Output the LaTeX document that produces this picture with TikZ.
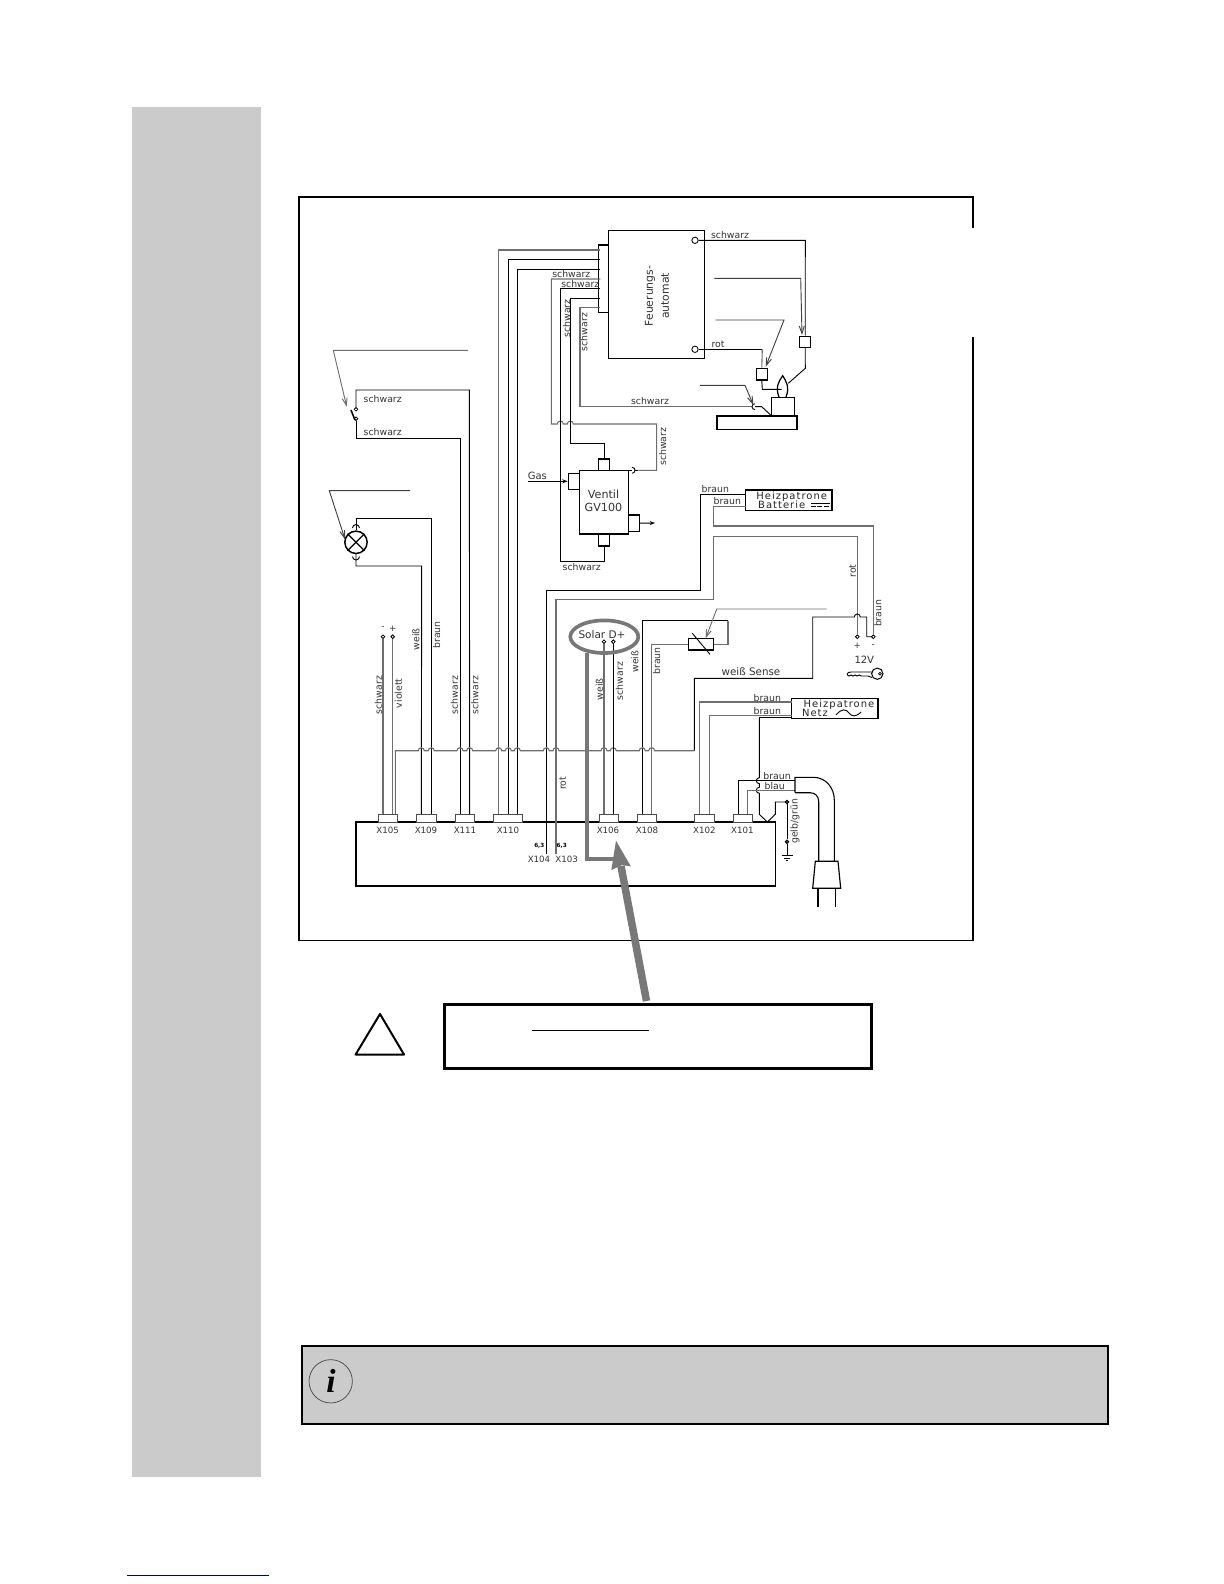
\documentclass[tikz,border=0pt]{standalone}
\usepackage{fontspec}
\setmainfont{DejaVu Sans}
\newfontfamily\serifi{Liberation Serif}
\newfontfamily\spaced[LetterSpace=10]{DejaVu Sans}
\usetikzlibrary{arrows.meta}
\definecolor{side}{HTML}{CBCBCB}
\definecolor{wgray}{HTML}{6E6E6E}
\definecolor{solar}{HTML}{787878}
\tikzset{
 wk/.style={line width=0.55pt,draw=black,line join=miter},
 wg/.style={line width=0.65pt,draw=wgray},
 part/.style={line width=0.8pt,draw=black,fill=white},
 boxst/.style={draw=black,line width=0.9pt,inner sep=0pt,outer sep=0pt,fill=white},
 termbox/.style={draw=black!70,line width=0.55pt,inner sep=0pt,outer sep=0pt,fill=white},
 call/.style={line width=0.55pt,draw=black!75,-{Straight Barb[length=4.5pt,width=3pt]}},
 lbl/.style={inner sep=0pt,text=black!80,font=\fontsize{5.6}{6.5}\selectfont},
 big/.style={inner sep=0pt,text=black!80,font=\fontsize{6.6}{8}\selectfont},
 term/.style={inner sep=0pt,text=black!80,font=\fontsize{5.2}{6}\selectfont},
 heiz/.style={inner sep=0pt,text=black!85,font=\spaced\fontsize{6}{7}\selectfont},
 pin/.style={circle,draw=black,line width=0.5pt,fill=white,inner sep=0pt,minimum size=2.2pt},
 rl/.style={rotate=90}
}
\newcommand{\bx}[6][boxst]{%
 \pgfmathsetmacro\bw{#5-#3}\pgfmathsetmacro\bh{#6-#4}%
 \node[#1,minimum width={\bw*0.6pt},minimum height={\bh*0.6pt}] (#2) at ({(#3+#5)/2},{(#4+#6)/2}) {};}
\begin{document}
\begin{tikzpicture}[x=0.6pt,y=-0.6pt]
\useasboundingbox (0,0) rectangle (1224,1584);
\fill[white] (0,0) rectangle (1224,1584);
% page furniture
\fill[side] (132,107) rectangle (261,1477);
\draw[line width=0.8pt,draw=blue!50!black] (127,1575.3) -- (269,1575.3);
% frame with gap
\draw[line width=1.1pt] (973,228) -- (973,197) -- (299,197) -- (299,940.5) -- (973,940.5) -- (973,337);

% main controller box and terminals
\bx{main}{356}{822}{775.3}{886}
\bx[termbox]{x105}{378.3}{814}{397.7}{822}
\bx[termbox]{x109}{416.3}{814}{436}{822}
\bx[termbox]{x111}{455}{814}{474.3}{822}
\bx[termbox]{x110}{493.7}{814}{522.3}{822}
\bx[termbox]{x106}{599}{814}{618.7}{822}
\bx[termbox]{x108}{637.3}{814}{656.7}{822}
\bx[termbox]{x102}{694.7}{814}{714.3}{822}
\bx[termbox]{x101}{733.7}{814}{752.7}{822}
\foreach \n/\x/\y in {p105a/383/814,p105b/392.7/814,p105c/395.3/814,p109a/421.3/814,p109b/431.3/814,p111a/460/814,p111b/469.7/814,p110a/498.7/814,p110b/508.3/814,p110c/517.3/814,p104/546.3/854,p103/556/854,p106a/604/814,p106b/613.3/814,p108a/642.3/814,p108b/651.7/814,p102a/699.3/814,p102b/709.3/814,p101a/738.7/814,p101b/747.7/814,s1/600.3/250,s2/600.3/259.7,s3/600.3/269.3,s4/600.3/279,s5/600.3/288.7,s6/600.3/298,s7/600.3/307.3}
 {\coordinate (\n) at (\x,\y);}
\node[term] (tx105) at (387.7,830.7) {X105};
\node[term] (tx109) at (426,830.7) {X109};
\node[term] (tx111) at (465,830.7) {X111};
\node[term] (tx110) at (508,830.7) {X110};
\node[term] (tx106) at (608,830.7) {X106};
\node[term] (tx108) at (647,830.7) {X108};
\node[term] (tx102) at (704.3,830.7) {X102};
\node[term] (tx101) at (742.3,830.7) {X101};
\node[term] (tx104) at (539,859.3) {X104};
\node[term] (tx103) at (566.7,859.3) {X103};
\node[inner sep=0pt,font=\fontsize{3.4}{4}\bfseries\selectfont] (t63a) at (539.3,845.7) {6,3};
\node[inner sep=0pt,font=\fontsize{3.4}{4}\bfseries\selectfont] (t63b) at (561.7,845.7) {6,3};

% firing automat
\bx[part]{strip}{600.3}{245}{608.3}{312.3}
\bx{feu}{608.3}{230.7}{704.3}{358.7}
\node[big,rl,align=center,font=\fontsize{6.5}{9.6}\selectfont] (tfeu) at (657,296) {Feuerungs-\\automat};
\node[pin,minimum size=3.8pt] (ca) at (695,240.3) {};
\node[pin,minimum size=3.8pt] (cb) at (695,349.3) {};
% wires from the strip
\draw[wg] (s1) -| (p110a);
\draw[wk] (s2) -| (p110b);
\draw[wk] (s3) -| (p110c);
\draw[wg] (s4) -- (551.3,279) -- (551.3,424) -- (557.3,424) arc[start angle=180,end angle=360,radius=3] -- (567.3,424) arc[start angle=180,end angle=360,radius=3] -- (656.7,424) -- (656.7,470.3) -- (638.3,470.3);
\draw[wk] (s5) -| (560.3,561.3) -- (604,561.3) -- (604,546);
\draw[wk] (s6) -| (570.3,443.3) -- (604,443.3) -- (604,459);
\draw[wg] (s7) -| (580,406.7) -- (752,406.7);
\draw[wk] (755,403.7) arc[start angle=270,end angle=90,radius=3];
\draw[wk] (755,406.7) -- (761.7,406.7) -- (771.7,416);
% igniter & sensor
\bx[part]{el1}{801.7}{336.3}{808.7}{347.3}
\bx[part]{el2}{758.3}{368.3}{765.3}{380}
\bx[part]{burn}{771.7}{397.3}{794.3}{416}
\bx[part]{bas}{717}{416}{797}{429.3}
\draw[wk] (ca) -- (805.3,240.3) -- (el1.north);
\draw[wk] (el1.south) -- (805.3,368.3) -- (788.3,383.3);
\draw[wk] (cb) -- (762.3,349.3);
\draw[wg] (762.3,349.3) -- (el2.north);
\draw[wk] (el2.south) -- (762.3,389.3) -- (781.7,389.3);
\draw[wk,line width=0.75pt] (779,397) .. controls (775,387) and (779,381) .. (782.7,375.7) .. controls (786,381) and (790,387) .. (786,397);
\coordinate (co1) at (714.3,278.3);
\coordinate (co2) at (715.7,320);
\coordinate (co3) at (700,385.3);
\draw[call] (co1) -- (800.7,278.3) -- (802,335);
\draw[call] (co2) -- (784,320) -- (765.7,366.7);
\draw[call] (co3) -- (745,385.3) -- (753.3,405);
\node[lbl] (t1) at (730,235) {schwarz};
\node[lbl] (t2) at (718,344) {rot};
\node[lbl] (t3) at (571.3,274) {schwarz};
\node[lbl] (t4) at (580.3,284) {schwarz};
\node[lbl,rl] (t5) at (566.7,318.3) {schwarz};
\node[lbl,rl] (t6) at (584,332) {schwarz};
\node[lbl] (t7) at (650,401) {schwarz};

% switch
\coordinate (co4) at (468,350.3);
\draw[call,wgray] (co4) -- (333.3,350.3) -- (346.7,406.7);
\node[pin] (sw1) at (356,409.3) {};
\node[pin] (sw2) at (356,418.7) {};
\draw[wk] (sw1) -- (356,390) -- (469.3,390) -- (p111b);
\draw[wk] (sw2) -- (356,438.3) -- (460,438.3) -- (p111a);
\draw[wk,line width=0.9pt] (351,410) -- (355,420);
\node[lbl] (t8) at (382.7,399) {schwarz};
\node[lbl] (t9) at (382.7,432.3) {schwarz};

% lamp
\coordinate (co5) at (410,490.7);
\draw[call] (co5) -- (329.3,490.7) -- (345,539.3);
\node[circle,draw=black,line width=0.9pt,minimum size=13.4pt,inner sep=0pt,fill=white] (lamp) at (356,542.3) {};
\draw[wk,line width=0.75pt] (lamp.45) -- (lamp.225) (lamp.135) -- (lamp.315);
\draw[wk] (356,518.3) -- (431.3,518.3) -- (p109b);
\draw[wk] (356,518.3) -- (lamp.north);
\draw[wk] (352.5,528) arc[start angle=180,end angle=360,radius=3.5];
\draw[wk] (lamp.south) -- (356,566) -- (421.7,566) -- (p109a);
\draw[wk] (352.5,556.5) arc[start angle=180,end angle=0,radius=3.5];

% valve
\bx[part]{vtop}{599}{459}{608.7}{470.3}
\bx[part]{vbot}{599}{534}{608.7}{546}
\bx[part]{vleft}{568.3}{473.7}{579.7}{489.3}
\bx[part]{vright}{628.3}{515}{639.3}{531.3}
\bx[part]{valve}{579.7}{470.3}{628.3}{534}
\node[big,align=center,font=\fontsize{6.7}{7.6}\selectfont] (tv) at (603.5,501) {Ventil\\GV100};
\draw[wk] (628.3,470.3) -- (632,470.3);
\draw[wk] (632,467.3) arc[start angle=270,end angle=450,radius=3];
\draw[wk] (635,470.3) -- (638.3,470.3);
\coordinate (gasin) at (527.7,481.3);
\draw[wk,-{Stealth[length=3.2pt,width=2.4pt]}] (gasin) -- (vleft.west |- gasin);
\draw[wk,-{Stealth[length=3.2pt,width=2.4pt]}] (vright.east) -- (655,523);
\node[lbl,font=\fontsize{6}{7}\selectfont] (tgas) at (537.3,476) {Gas};
\node[lbl] (t10) at (581.7,567) {schwarz};
\node[lbl,rl] (t11) at (662.7,446.7) {schwarz};

% Heizpatrone Batterie
\bx{hb}{745.7}{490}{832}{510.7}
\node[heiz] (thb1) at (791.7,496.6) {Heizpatrone};
\node[heiz] (thb2) at (781.7,505) {Batterie};
\draw[line width=0.8pt] (811,503.6) -- (830,503.6);
\draw[line width=0.8pt,dash pattern=on 3pt off 0.8pt] (811,506.3) -- (830,506.3);
\node[pin] (cp) at (857.3,636.7) {};
\node[pin] (cm) at (873.3,636.7) {};
\draw[wk] (hb.west |- 0,494) -- (700,494) -- (700,590) -- (546.3,590) -- (p104);
\draw[wg] (hb.west |- 0,506.7) -- (713.3,506.7) -- (713.3,526) -- (873.3,526) -- (cm);
\draw[wg] (p103) -- (556,599.3) -- (713.3,599.3) -- (713.3,536.7) -- (857.3,536.7) -- (cp);
\draw[wk] (694.3,750.7) -- (694.3,678.3) -- (812.7,678.3) -- (812.7,617) -- (854.3,617) arc[start angle=180,end angle=360,radius=3] -- (866.7,617) -- (866.7,636.7) -- (cm);
\node[lbl] (t12) at (715.3,488.7) {braun};
\node[lbl] (t13) at (727.3,501) {braun};
\node[lbl,rl] (t14) at (852.7,571) {rot};
\node[lbl,rl] (t15) at (878,613.3) {braun};
\node[term] (tplus) at (857.3,645.7) {+};
\node[term] (tminus) at (873.3,645.7) {-};
\node[lbl,font=\fontsize{6}{7}\selectfont] (t12v) at (864.3,659.3) {12V};
\node[lbl,font=\fontsize{6.2}{7}\selectfont] (tsense) at (751,671.3) {weiß Sense};
% key
\node[circle,draw=black,line width=0.6pt,inner sep=0pt,minimum size=6.8pt] (key) at (877.3,673.7) {};
\node[circle,draw=black,line width=0.4pt,inner sep=0pt,minimum size=1.6pt] (keyh) at (880,673.7) {};
\draw[wk] (872,672) -- (851,672) .. controls (847,672) and (846,675) .. (849,676) -- (851,675) -- (853,676) -- (855,675) -- (857,676) -- (859,675) -- (861,676) -- (868,676) -- (872,677.5);

% resistor
\bx[part]{res}{688.3}{639.3}{713.7}{649.3}
\draw[wk] (692.3,633.3) -- (710,654.3);
\draw[wg] (res.west) -- (651.7,644.3) -- (p108b);
\draw[wg] (res.east) -- (728,644.3) -- (728,620.7);
\draw[wk] (728,620.7) -- (642.3,620.7) -- (p108a);
\coordinate (co6) at (826.7,609);
\draw[call,wgray] (co6) -- (716.7,609) -- (705.7,638.3);
\node[lbl,rl] (t16) at (635,661.7) {weiß};
\node[lbl,rl] (t17) at (656.7,661) {braun};

% Heizpatrone Netz
\bx{hn}{791.7}{698.7}{878}{718.7}
\node[heiz] (thn1) at (839,705) {Heizpatrone};
\node[heiz] (thn2) at (815,713.4) {Netz};
\draw[wk] (836,715) .. controls (842,708) and (846,709) .. (849,713) .. controls (852,717) and (856,717) .. (861,712);
\draw[wg] (hn.west |- 0,702) -- (699.3,702) -- (p102a);
\draw[wg] (hn.west |- 0,715.3) -- (709.3,715.3) -- (p102b);
\node[lbl] (t18) at (767.3,698.3) {braun};
\node[lbl] (t19) at (767.3,711.3) {braun};

% long bus wire with bridges
\draw[wg] (p105c) -- (395.3,750.7)
 \foreach \x in {421.3,431.3,460,469.7,498.7,508.3,517.3,546.3,556,604,613.3,642.3,651.7}{ -- ({\x-3},750.7) arc[start angle=180,end angle=360,radius=3]} -- (694.3,750.7);
\node[pin] (d1) at (383,636.7) {};
\node[pin] (d2) at (392.7,636.7) {};
\draw[wg] (d1) -- (p105a);
\draw[wg] (d2) -- (p105b);
\node[term] (tm) at (383,628.3) {-};
\node[term] (tp) at (392.7,628.3) {+};
\node[lbl,rl] (t20) at (378.3,695) {schwarz};
\node[lbl,rl] (t21) at (398.3,693.3) {violett};
\node[lbl,rl] (t22) at (416,639.3) {weiß};
\node[lbl,rl] (t23) at (436.7,635) {braun};
\node[lbl,rl] (t24) at (454.3,695) {schwarz};
\node[lbl,rl] (t25) at (475,695) {schwarz};
\node[lbl,rl] (t26) at (562.7,783.3) {rot};
\node[lbl,rl] (t27) at (599.3,689.3) {weiß};
\node[lbl,rl] (t28) at (619.3,681) {schwarz};

% Solar D+
\node[pin] (sa) at (604,641.7) {};
\node[pin] (sb) at (613.3,641.7) {};
\draw[wg] (sa) -- (p106a);
\draw[wk,line width=0.7pt] (sb) -- (p106b);
\node[big,font=\fontsize{6.3}{7}\selectfont] (tsol) at (602,635) {Solar D+};
\draw[solar,line width=2.2pt] (604.3,636.7) ellipse [x radius=34,y radius=16.3];
\draw[solar,line width=2.2pt] (587,653) -- (587,859.3) -- (616.7,859.3);
% mains
\draw[wk] (759.3,717.3) -- (759.3,777.7) arc[start angle=270,end angle=90,radius=3] -- (759.3,787.3) arc[start angle=270,end angle=90,radius=3] -- (759.3,814.3) -- (767.3,822) -- (775.3,814.3) -- (775.3,802) -- (787,802);
\draw[wk] (hn.west |- 0,717.3) -- (759.3,717.3);
\node[pin,fill=black!70] (g1) at (787,802) {};
\node[pin,fill=black!70] (g2) at (787,841.7) {};
\draw[wk] (g1) -- (g2) -- (787,855.7);
\draw[wk] (781.7,855.7) -- (792.7,855.7) (784.3,858) -- (790,858) (786,860) -- (788,860);
\draw[wk] (p101a) -- (738.7,780.7) -- (795,780.7);
\draw[wg] (p101b) -- (747.7,790.3) -- (795,790.3);
\draw[wk,line width=0.65pt] (795,792.7) -- (795,777.3) -- (813.3,777.3) .. controls (826,777.3) and (834.3,788) .. (834.3,800) -- (834.3,861.3);
\draw[wk,line width=0.65pt] (795,792.7) -- (810,792.7) .. controls (815,792.7) and (818.7,796) .. (818.7,801.7) -- (818.7,861.3);
\draw[wk,line width=0.7pt] (815.3,861.3) -- (838,861.3) -- (840.7,888.3) -- (812.7,888.3) -- cycle;
\draw[wk,line width=0.7pt] (818,888.3) -- (818,906.7) (835.3,888.3) -- (835.3,906.7);
\node[lbl] (t30) at (777,776) {braun};
\node[lbl] (t31) at (774.7,785.7) {blau};
\node[lbl,rl] (t32) at (795,821.3) {gelb/grün};

% big arrow
\draw[solar,line width=4.5pt] (621,866) -- (646.5,1001);
\fill[solar] (616,840.7) -- (630.9,866.4) -- (622,865) -- (611.3,870) -- cycle;

% warning
\draw[line width=1.2pt,line join=round] (380,1014) -- (404,1054.5) -- (355.6,1054.5) -- cycle;
\draw[line width=1.8pt] (444.5,1004.5) rectangle (871,1068);
\draw[line width=0.6pt] (532.4,1030.3) -- (648.5,1030.3);

% info box
\draw[line width=1.2pt,fill=side] (302,1345.7) rectangle (1108,1423.7);
\node[circle,draw=black!70,line width=0.45pt,minimum size=26pt,inner sep=0pt] (icirc) at (330.7,1381.3) {};
\node[inner sep=0pt,font=\serifi\bfseries\itshape\fontsize{20}{22}\selectfont] (ii) at (331,1380.5) {i};
\end{tikzpicture}
\end{document}
